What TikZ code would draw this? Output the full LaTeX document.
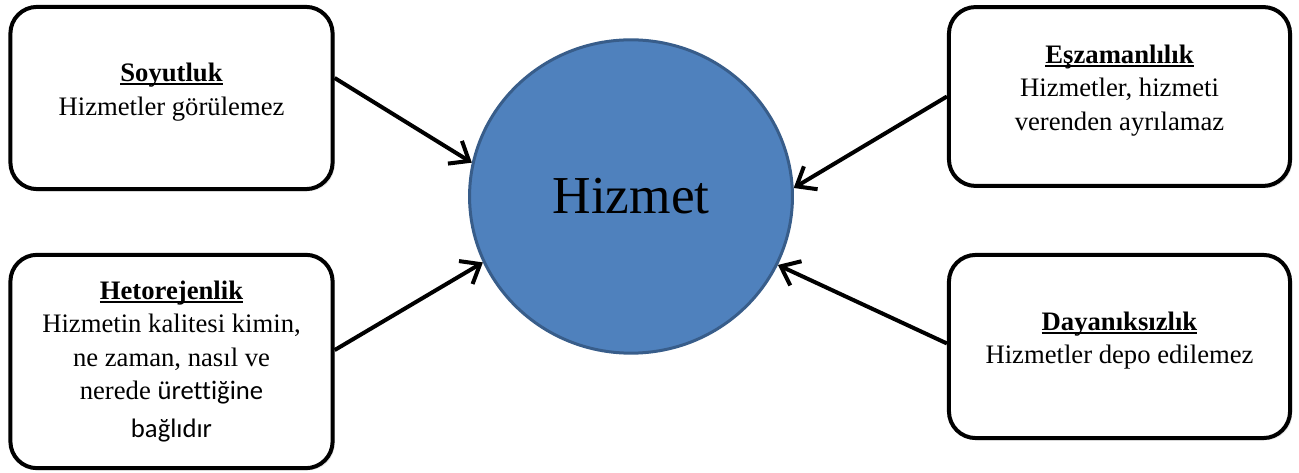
\documentclass[tikz,border=0pt]{standalone}
\usepackage{fontspec}
\setmainfont{Liberation Serif}
\newfontfamily\calibrifont[Ligatures=NoCommon]{Carlito}
\usetikzlibrary{positioning, arrows.meta, shapes, shadows}

\definecolor{hizmetblue}{HTML}{4F81BD}
\definecolor{hizmetedge}{HTML}{385D8A}

% bold title with a heavy underline close to the baseline
\newcommand{\boxtitle}[1]{\textbf{\setbox0\hbox{#1}\rlap{\rule[-1.7pt]{\wd0}{0.9pt}}\box0}}

\begin{document}
\begin{tikzpicture}[
	every box/.style={draw, line width=1.8pt, rounded corners=12pt, fill=white, align=center, inner sep=2pt, font=\fontsize{12}{15}\selectfont, drop shadow={opacity=0.2, shadow xshift=1pt, shadow yshift=-1pt}},
	box left/.style={minimum width=145pt},
	box right/.style={minimum width=153.5pt},
	lifted/.style={execute at end node={\rule[-8pt]{0pt}{0pt}}},
	center ellipse/.style={ellipse, draw=hizmetedge, fill=hizmetblue, line width=1.35pt, inner sep=0pt, minimum width=145.3pt, minimum height=141pt, font=\fontsize{24}{28}\selectfont},
	x=0.45pt,
	y=-0.45pt,
	>={Straight Barb[length=7.5pt, width=12pt]}
]

\useasboundingbox (0,0) rectangle (1299,473);

\node [center ellipse] (hizmet) at (631,196.5) {Hizmet};

\node [every box, box left, lifted, minimum height=82pt] (soyutluk) at (171.5,98)
	{\boxtitle{Soyutluk}\\ Hizmetler görülemez};

\node [every box, box left, minimum height=96pt] (hetorejenlik) at (171.5,361.5)
	{\boxtitle{Hetorejenlik}\\ Hizmetin kalitesi kimin,\\ ne zaman, nasıl ve\\ nerede {\calibrifont ürettiğine}\\[2pt] {\calibrifont bağlıdır}};

\node [every box, box right, lifted, minimum height=80.5pt] (eszamanlilik) at (1119.5,96.5)
	{\boxtitle{Eşzamanlılık}\\ Hizmetler, hizmeti\\ verenden ayrılamaz};

\node [every box, box right, lifted, minimum height=82.4pt] (dayaniksizlik) at (1119.5,346.5)
	{\boxtitle{Dayanıksızlık}\\ Hizmetler depo edilemez};

\foreach \f/\a/\b in {soyutluk/7/168, hetorejenlik/4/204, eszamanlilik/180/3, dayaniksizlik/179/335}
	\draw [->, line width=1.8pt] (\f.\a) -- (hizmet.\b);

\end{tikzpicture}
\end{document}
